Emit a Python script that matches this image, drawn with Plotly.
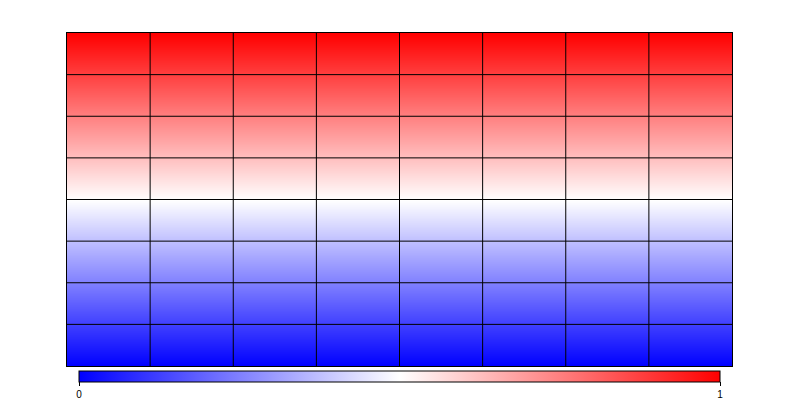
import plotly.graph_objects as go

# Data: 8 columns, colour level at each horizontal grid boundary (bottom -> top)
columns = ["C1", "C2", "C3", "C4", "C5", "C6", "C7", "C8"]
row_levels = [0.0, 0.125, 0.25, 0.375, 0.5, 0.625, 0.75, 0.875, 1.0]
colorbar_ticks = [0, 1]
colorbar_ticklabels = ["0", "1"]

n_cols = len(columns)
n_rows = len(row_levels) - 1

z = [[v for _ in columns] for v in row_levels]
x_centers = [i + 0.5 for i in range(n_cols)]
y_pos = list(range(len(row_levels)))

W, H = 800, 400
ml, mr, mt, mb = 67, 68, 33, 34
plot_w = W - ml - mr
plot_h = H - mt - mb

fig = go.Figure(
    go.Heatmap(
        z=z,
        x=x_centers,
        y=y_pos,
        zmin=0,
        zmax=1,
        zsmooth="best",
        colorscale=[[0, "rgb(0,0,255)"], [0.5, "rgb(255,255,255)"], [1, "rgb(255,0,0)"]],
        hoverinfo="skip",
        colorbar=dict(
            orientation="h",
            x=0.5,
            xanchor="center",
            y=-5 / plot_h,
            yanchor="top",
            thickness=11,
            len=641 / plot_w,
            lenmode="fraction",
            xpad=0,
            ypad=0,
            outlinewidth=1,
            outlinecolor="black",
            tickvals=colorbar_ticks,
            ticktext=colorbar_ticklabels,
            ticks="outside",
            ticklen=4,
            tickcolor="black",
            tickfont=dict(family="Liberation Sans, Arial", size=10, color="black"),
        ),
    )
)

shapes = []
for i in range(1, n_cols):
    shapes.append(dict(type="line", xref="x", yref="y", x0=i, x1=i, y0=0, y1=n_rows,
                       line=dict(color="black", width=1), layer="above"))
for j in range(1, n_rows):
    shapes.append(dict(type="line", xref="x", yref="y", x0=0, x1=n_cols, y0=j, y1=j,
                       line=dict(color="black", width=1), layer="above"))

fig.update_layout(
    width=W,
    height=H,
    margin=dict(l=ml, r=mr, t=mt, b=mb, pad=0, autoexpand=False),
    paper_bgcolor="white",
    plot_bgcolor="white",
    shapes=shapes,
    xaxis=dict(range=[0, n_cols], showgrid=False, zeroline=False, showticklabels=False,
               ticks="", showline=True, mirror=True, linecolor="black", linewidth=1),
    yaxis=dict(range=[0, n_rows], showgrid=False, zeroline=False, showticklabels=False,
               ticks="", showline=True, mirror=True, linecolor="black", linewidth=1),
)

fig.write_html("out.html")
